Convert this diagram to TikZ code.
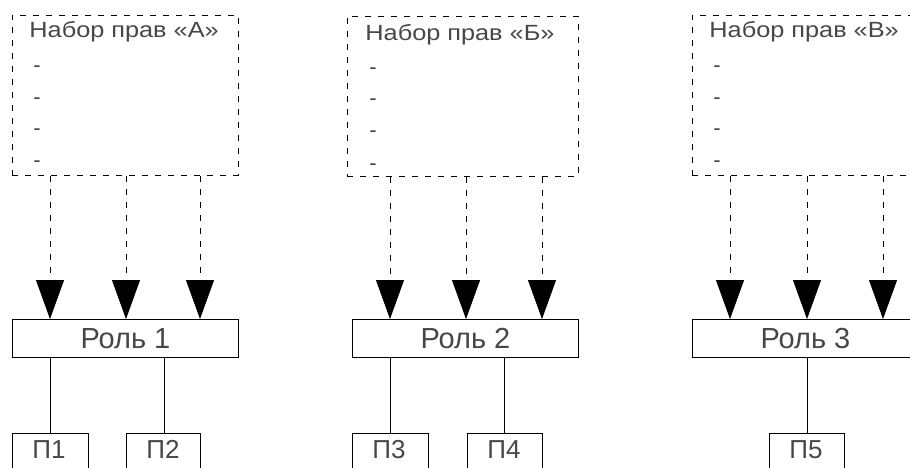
\documentclass[tikz,border=0pt]{standalone}
\usepackage{fontspec}
\setmainfont{Liberation Sans}
\usetikzlibrary{arrows.meta}
\begin{document}
\begin{tikzpicture}[x=1pt,y=-1pt,
  line width=0.85pt,
  rights/.style={draw, dash pattern=on 6pt off 7pt, minimum width=#1, minimum height=160, anchor=north west, inner sep=0},
  rights/.default=226,
  titletxt/.style={anchor=base west, inner sep=0, font=\fontsize{22}{24}\selectfont, text=black!72},
  dashtxt/.style={anchor=center, inner sep=0, font=\fontsize{22}{24}\selectfont, text=black!72},
  rolebox/.style={draw, minimum width=226, minimum height=38, anchor=north west, inner sep=0, font=\fontsize{29}{32}\selectfont, text=black!72},
  pbox/.style={draw, minimum width=#1, minimum height=60, anchor=north west, inner sep=0},
  pbox/.default=76,
  ptxt/.style={anchor=base, inner sep=0, font=\fontsize{26}{28}\selectfont, text=black!72},
  arr/.style={dash pattern=on 6pt off 7pt, -{Triangle[width=28pt,length=39pt]}},
  link/.style={draw}
]
\useasboundingbox (0,0) rectangle (910,468);
\clip (0,0) rectangle (910,468);

% ---------- Group A ----------
\node[rights] (RA) at (12,15) {};
\node[titletxt] (TA) at (29,38) {\scalebox{1.15}[1]{Набор прав «А»}};
\node[dashtxt] (dA1) at (37,69) {-};
\node[dashtxt] (dA2) at (37,101) {-};
\node[dashtxt] (dA3) at (37,132) {-};
\node[dashtxt] (dA4) at (37,164) {-};
\node[rolebox] (R1) at (12,319) {Роль 1};
\draw[arr] ([xshift=38]RA.south west) -- ([xshift=38]R1.north west);
\draw[arr] ([xshift=114]RA.south west) -- ([xshift=114]R1.north west);
\draw[arr] ([xshift=188]RA.south west) -- ([xshift=188]R1.north west);
\node[pbox] (P1) at (12,433) {};
\node[pbox=74] (P2) at (126,433) {};
\node[ptxt] (tP1) at (49,458) {П1};
\node[ptxt] (tP2) at (163,458) {П2};
\draw[link] ([xshift=38]R1.south west) -- ([xshift=38]P1.north west);
\draw[link] ([xshift=152]R1.south west) -- ([xshift=38]P2.north west);

% ---------- Group B ----------
\node[rights=231] (RB) at (347,16) {};
\node[titletxt] (TB) at (365,41) {\scalebox{1.15}[1]{Набор прав «Б»}};
\node[dashtxt] (dB1) at (373,71) {-};
\node[dashtxt] (dB2) at (373,102) {-};
\node[dashtxt] (dB3) at (373,134) {-};
\node[dashtxt] (dB4) at (373,167) {-};
\node[rolebox] (R2) at (352,319) {Роль 2};
\draw[arr] ([xshift=43]RB.south west) -- ([xshift=38]R2.north west);
\draw[arr] ([xshift=119]RB.south west) -- ([xshift=114]R2.north west);
\draw[arr] ([xshift=195]RB.south west) -- ([xshift=190]R2.north west);
\node[pbox] (P3) at (352,433) {};
\node[pbox=75] (P4) at (467,433) {};
\node[ptxt] (tP3) at (389,458) {П3};
\node[ptxt] (tP4) at (504,458) {П4};
\draw[link] ([xshift=38]R2.south west) -- ([xshift=38]P3.north west);
\draw[link] ([xshift=152]R2.south west) -- ([xshift=37]P4.north west);

% ---------- Group C ----------
\node[rights] (RC) at (692,15) {};
\node[titletxt] (TC) at (709,38) {\scalebox{1.15}[1]{Набор прав «В»}};
\node[dashtxt] (dC1) at (717,69) {-};
\node[dashtxt] (dC2) at (717,101) {-};
\node[dashtxt] (dC3) at (717,132) {-};
\node[dashtxt] (dC4) at (717,164) {-};
\node[rolebox] (R3) at (692,319) {Роль 3};
\draw[arr] ([xshift=38]RC.south west) -- ([xshift=38]R3.north west);
\draw[arr] ([xshift=115]RC.south west) -- ([xshift=115]R3.north west);
\draw[arr] ([xshift=191]RC.south west) -- ([xshift=191]R3.north west);
\node[pbox=75] (P5) at (769,433) {};
\node[ptxt] (tP5) at (806,458) {П5};
\draw[link] ([xshift=115]R3.south west) -- ([xshift=38]P5.north west);
\end{tikzpicture}
\end{document}
